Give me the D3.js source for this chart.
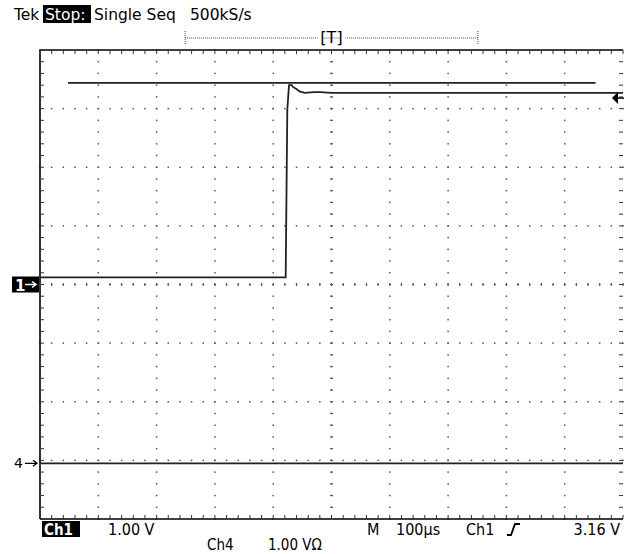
<!DOCTYPE html>
<html>
<head>
<meta charset="utf-8">
<script src="https://cdn.jsdelivr.net/npm/d3@7/dist/d3.min.js"></script>
<style>
  html, body { margin: 0; padding: 0; background: #fff; }
  svg { display: block; }
  text { font-family: "DejaVu Sans", sans-serif; fill: #000; }
  .cond { font-family: "DejaVu Sans Condensed", "DejaVu Sans", sans-serif; font-stretch: condensed; }
</style>
</head>
<body>
<div id="scope"></div>
<script>
// Channel 1 trace: time (µs), volts (1 V/div, ground at centre)
const ch1Time = [-500, -78.6, -75.8, -72.9, -68.3, -66, -60.9, -54, -45.5, -30, -19.7, 0, 31.7, 100, 200, 300, 400, 500];
const ch1Volts = [0.12, 0.12, 2.98, 3.40, 3.40, 3.37, 3.34, 3.29, 3.27, 3.28, 3.28, 3.27, 3.27, 3.27, 3.27, 3.27, 3.27, 3.27];

// Channel 4 trace (0 V, position offset in divisions)
const ch4Time = [-500, -250, 0, 250, 500];
const ch4Volts = [0, 0, 0, 0, 0];
const ch4Offset = -3.05;

// reference line and trigger level
const refTime = [-452, 453];
const refVolts = [3.44, 3.44];
const trigLevel = 3.18;
const recordWindow = [-251, 251];

const width = 624, height = 554;
const svg = d3.select("#scope").append("svg")
  .attr("width", width).attr("height", height);

const x = d3.scaleLinear().domain([-500, 500]).range([40, 623]);
const y = d3.scaleLinear().domain([-4, 4]).range([519, 50]);

// graticule dots
const g = svg.append("g");
const vLines = d3.range(-400, 401, 100);
const hLines = d3.range(-3, 3.01, 1);
vLines.forEach(t => {
  d3.range(-4, 4.001, 0.2).forEach(v => {
    g.append("rect").attr("x", x(t) - 0.75).attr("y", y(v) - 0.75)
      .attr("width", 1.5).attr("height", 1.5).attr("fill", "#555");
  });
});
hLines.forEach(v => {
  d3.range(-500, 500.1, 20).forEach(t => {
    g.append("rect").attr("x", x(t) - 0.75).attr("y", y(v) - 0.75)
      .attr("width", 1.5).attr("height", 1.5).attr("fill", "#555");
  });
});

// border with ticks
g.append("path")
  .attr("d", `M${x(-500)},${y(-4)}V${y(4)}H${x(500)}M${x(-500)},${y(-4)}H${x(500)}`)
  .attr("fill", "none").attr("stroke", "#000").attr("stroke-width", 1.6);
d3.range(-500, 500.1, 20).forEach(t => {
  g.append("line").attr("x1", x(t)).attr("x2", x(t)).attr("y1", y(4)).attr("y2", y(4) + 4)
    .attr("stroke", "#333").attr("stroke-width", 1);
  g.append("line").attr("x1", x(t)).attr("x2", x(t)).attr("y1", y(-4)).attr("y2", y(-4) - 4)
    .attr("stroke", "#333").attr("stroke-width", 1);
});
d3.range(-4, 4.001, 0.2).forEach(v => {
  g.append("line").attr("x1", x(-500)).attr("x2", x(-500) + 4).attr("y1", y(v)).attr("y2", y(v))
    .attr("stroke", "#333").attr("stroke-width", 1);
  g.append("line").attr("x1", x(500)).attr("x2", x(500) - 4).attr("y1", y(v)).attr("y2", y(v))
    .attr("stroke", "#333").attr("stroke-width", 1);
});
// centre line ticks
d3.range(-500, 500.1, 20).forEach(t => {
  g.append("line").attr("x1", x(t)).attr("x2", x(t)).attr("y1", y(0) - 1.5).attr("y2", y(0) + 1.5)
    .attr("stroke", "#555").attr("stroke-width", 1);
});
d3.range(-4, 4.001, 0.2).forEach(v => {
  g.append("line").attr("x1", x(0) - 1.5).attr("x2", x(0) + 1.5).attr("y1", y(v)).attr("y2", y(v))
    .attr("stroke", "#555").attr("stroke-width", 1);
});

// traces
const line = d3.line().x(d => x(d[0])).y(d => y(d[1]));
svg.append("path")
  .datum(refTime.map((t, i) => [t, refVolts[i]]))
  .attr("d", line).attr("fill", "none").attr("stroke", "#222").attr("stroke-width", 1.8);
svg.append("path")
  .datum(ch1Time.map((t, i) => [t, ch1Volts[i]]))
  .attr("d", line).attr("fill", "none").attr("stroke", "#222").attr("stroke-width", 1.8);
svg.append("path")
  .datum(ch4Time.map((t, i) => [t, ch4Volts[i] + ch4Offset]))
  .attr("d", line).attr("fill", "none").attr("stroke", "#222").attr("stroke-width", 1.8);

// channel ground markers
svg.append("rect").attr("x", 12).attr("y", y(0) - 8).attr("width", 27).attr("height", 16).attr("fill", "#000");
svg.append("text").attr("x", 15).attr("y", y(0) + 6).attr("font-size", 15).attr("font-weight", "bold")
  .style("fill", "#fff").text("1");
svg.append("path").attr("d", `M25,${y(0)}H36M32,${y(0) - 3}L36,${y(0)}L32,${y(0) + 3}`)
  .attr("stroke", "#fff").attr("stroke-width", 1.5).attr("fill", "none");

const y4 = y(ch4Offset);
svg.append("text").attr("x", 14).attr("y", y4 + 5).attr("font-size", 14).text("4");
svg.append("path").attr("d", `M25,${y4}H37M33,${y4 - 3}L37,${y4}L33,${y4 + 3}`)
  .attr("stroke", "#000").attr("stroke-width", 1.3).attr("fill", "none");

// trigger level arrow on the right
const yt = y(trigLevel);
svg.append("path").attr("d", `M612,${yt}L618,${yt - 6}V${yt + 6}Z`).attr("fill", "#000");
svg.append("line").attr("x1", 617).attr("x2", 624).attr("y1", yt).attr("y2", yt)
  .attr("stroke", "#000").attr("stroke-width", 1.5);

// record window bracket
const xb0 = x(recordWindow[0]), xb1 = x(recordWindow[1]), yb = 38;
svg.append("line").attr("x1", xb0).attr("x2", xb1).attr("y1", yb).attr("y2", yb)
  .attr("stroke", "#444").attr("stroke-width", 1).attr("stroke-dasharray", "1,1");
[xb0, xb1].forEach(xx => {
  svg.append("line").attr("x1", xx).attr("x2", xx).attr("y1", 31).attr("y2", 45)
    .attr("stroke", "#444").attr("stroke-width", 1).attr("stroke-dasharray", "1,1");
});
svg.append("rect").attr("x", x(0) - 14).attr("y", 29).attr("width", 28).attr("height", 16).attr("fill", "#fff");
svg.append("text").attr("x", x(0)).attr("y", 43).attr("text-anchor", "middle").attr("font-size", 16)
  .text("[T]");
svg.append("line").attr("x1", x(0) - 10).attr("x2", x(0) + 10).attr("y1", yb).attr("y2", yb)
  .attr("stroke", "#444").attr("stroke-width", 1).attr("stroke-dasharray", "1,1");

// header
const hs = 15.5;
svg.append("text").attr("x", 14).attr("y", 20).attr("font-size", hs).text("Tek");
svg.append("rect").attr("x", 43).attr("y", 5).attr("width", 48).attr("height", 18).attr("fill", "#000");
svg.append("text").attr("x", 45).attr("y", 20).attr("font-size", hs).style("fill", "#fff").text("Stop:");
svg.append("text").attr("x", 94).attr("y", 20).attr("font-size", hs).text("Single Seq");
svg.append("text").attr("x", 190).attr("y", 20).attr("font-size", hs).text("500kS/s");

// footer
const fb = 535, fs = 16;
svg.append("rect").attr("x", 42).attr("y", 521).attr("width", 38).attr("height", 16).attr("fill", "#000");
svg.append("text").attr("class", "cond").attr("x", 44).attr("y", fb).attr("font-size", 15).attr("font-weight", "bold")
  .style("fill", "#fff").text("Ch1");
svg.append("text").attr("class", "cond").attr("x", 108).attr("y", fb).attr("font-size", fs).text("1.00 V");
svg.append("text").attr("class", "cond").attr("x", 367).attr("y", fb).attr("font-size", fs).text("M");
svg.append("text").attr("class", "cond").attr("x", 396).attr("y", fb).attr("font-size", fs).text("100µs");
svg.append("text").attr("class", "cond").attr("x", 466).attr("y", fb).attr("font-size", fs).text("Ch1");
svg.append("path").attr("d", `M507,${fb}H511L515,${fb - 11}H520`)
  .attr("fill", "none").attr("stroke", "#000").attr("stroke-width", 1.8);
svg.append("text").attr("class", "cond").attr("x", 620).attr("y", fb).attr("text-anchor", "end")
  .attr("font-size", fs).text("3.16 V");
svg.append("text").attr("class", "cond").attr("x", 207).attr("y", 550).attr("font-size", 15).text("Ch4");
svg.append("text").attr("class", "cond").attr("x", 268).attr("y", 550).attr("font-size", 15).text("1.00 VΩ");
</script>
</body>
</html>
